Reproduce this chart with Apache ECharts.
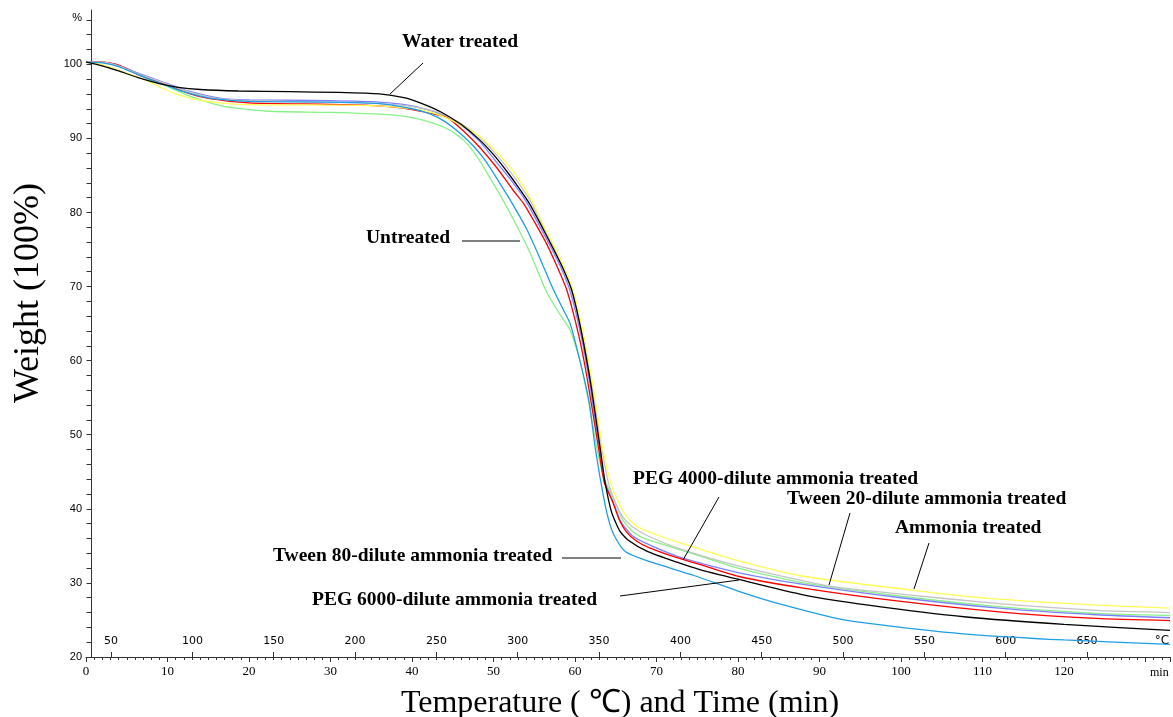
<!DOCTYPE html>
<html>
<head>
<meta charset="utf-8">
<script src="https://cdn.jsdelivr.net/npm/echarts@6/dist/echarts.min.js"></script>
<style>
html,body{margin:0;padding:0;background:#fff;}
#chart{width:1173px;height:717px;}
</style>
</head>
<body>
<div id="chart"></div>
<script>
// ---- data: [time (min), weight (%)] ----
var waterTreated = [[0,100.3],[2,99.8],[4,99.1],[6.4,98.2],[9,97.4],[11.3,96.9],[14,96.6],[18.7,96.4],[25,96.3],[31,96.2],[36,96.0],[39,95.5],[41,94.8],[43.5,93.6],[46,91.9],[48.3,89.8],[50,87.8],[51.6,85.6],[53,83.5],[54.3,81.4],[55.7,78.6],[57.1,75.6],[58.5,72.5],[59.6,69.5],[60.8,63.8],[62,56.4],[63.1,48.1],[63.7,43.5],[64.5,39.5],[65.5,37.0],[66.5,35.8],[68.8,34.3],[72.5,32.8],[75.3,31.8],[80,30.5],[88,28.4],[96,27.0],[108,25.4],[120,24.4],[133,23.6]];
var untreated = [[0,100.3],[2,100.3],[4,99.8],[6.4,98.6],[10,97.0],[12.5,95.8],[16.6,94.4],[22,93.7],[30,93.5],[37,93.2],[40,92.8],[42.2,92.2],[44.5,91.2],[46.3,89.8],[48,87.5],[49.6,84.6],[51.2,81.6],[52.8,78.3],[54.5,74.5],[56.5,69.3],[58,66.5],[59.4,64.1],[60.6,60.0],[61.8,53.7],[62.7,48.1],[63.6,44.0],[64.9,41.0],[65.8,38.6],[67,37.0],[68.5,36.0],[74.6,33.9],[80,32.0],[88,30.0],[100,28.2],[112,26.8],[124,25.9],[133,25.6]];
var peg4000 = [[0,100.3],[2,100.3],[4,99.9],[6.4,98.8],[10,97.4],[12.5,96.4],[16.6,95.4],[20,95.2],[30,95.1],[36,94.9],[40,94.4],[43,93.5],[46,91.8],[48.3,89.6],[50.5,86.6],[52.4,84.0],[54,81.5],[55.6,78.3],[57,75.4],[58.3,72.5],[59.4,69.4],[60.7,63.6],[61.8,57.0],[63.0,48.1],[63.7,43.5],[64.8,40.6],[65.6,38.3],[67,36.4],[69,35.2],[73.3,33.3],[80,31.4],[88,29.8],[100,28.0],[112,26.6],[124,25.7],[133,25.3]];
var peg6000 = [[0,100.3],[2,100.3],[4,99.9],[6.4,98.6],[10,97.2],[12.5,96.1],[15,95.4],[20,94.8],[30,94.6],[36,94.4],[40,93.9],[44.3,92.8],[46.5,90.8],[48.3,88.8],[50.5,85.9],[52.4,83.0],[53.7,81.2],[55.3,78.2],[56.5,75.8],[57.8,72.7],[59,69.5],[60.4,63.7],[61.4,58.2],[62.9,48.1],[63.6,43.5],[64.6,41.0],[65.4,38.6],[66.3,36.9],[67.5,35.7],[69,34.8],[72.5,33.4],[75.3,32.5],[80,30.9],[88,29.3],[100,27.5],[112,26.1],[124,25.2],[133,24.9]];
var tween20 = [[0,100.3],[2,100.3],[4,99.8],[6.4,98.7],[10,97.3],[12.5,96.3],[16,95.4],[20,95.1],[30,94.9],[36,94.7],[40,94.3],[43,93.6],[46,92.0],[48.3,90.2],[50.5,87.6],[52.4,85.0],[54.5,81.6],[56,78.3],[57.5,75.0],[58.8,71.8],[59.8,68.8],[61,63.0],[62.2,56.0],[63.3,48.1],[64.1,43.5],[64.9,41.0],[65.8,39.0],[67,37.6],[69,36.3],[72.9,34.6],[80,32.3],[91,29.6],[100,28.5],[112,27.2],[124,26.3],[133,26.0]];
var ammonia = [[0,100.3],[1,100.2],[2.7,99.7],[5,98.8],[7.6,97.7],[9.5,96.7],[11.3,95.9],[13.7,95.2],[18.7,94.6],[30,94.5],[36,94.4],[40,94.0],[43,93.3],[46,91.8],[48.3,90.3],[50.5,88.0],[52.4,85.6],[54.7,81.6],[56.1,78.3],[57.7,74.9],[59,71.8],[60,68.6],[61.2,62.7],[62.3,56.0],[63.4,48.1],[64.5,43.0],[65.3,41.0],[66.3,39.0],[67.6,37.6],[70,36.5],[72.9,35.4],[80,33.0],[88,30.9],[101.5,29.0],[112,27.8],[124,27.0],[133,26.6]];
var tween80 = [[0,100.3],[2,100.2],[4,99.7],[6.4,98.6],[8,97.9],[10,97.1],[12,96.3],[14,95.7],[16,95.3],[20,95.0],[30,94.9],[36,94.7],[40,94.0],[42.2,93.3],[44,92.3],[46,90.6],[47.5,89.0],[49,87.0],[50.8,83.9],[52.2,81.4],[54,77.9],[55.5,74.3],[57.3,69.7],[58.5,67.0],[59.4,65.0],[60.6,60.0],[61.7,54.6],[62.5,48.1],[63.5,41.6],[64.2,38.2],[64.9,36.2],[66.2,34.2],[68.8,33.0],[74.6,31.0],[80,28.9],[85,27.2],[93,25.0],[100,24.0],[108,23.1],[120,22.3],[133,21.7]];

var seriesNames = ['Water treated','Untreated','PEG 4000-dilute ammonia treated','PEG 6000-dilute ammonia treated','Tween 20-dilute ammonia treated','Ammonia treated','Tween 80-dilute ammonia treated'];
var seriesData = [waterTreated, untreated, peg4000, peg6000, tween20, ammonia, tween80];
var seriesColors = ['#000000','#88f088','#8080ff','#ff0000','#c4c4c4','#ffff55','#1e9ee6'];

var timeLabels = [0,10,20,30,40,50,60,70,80,90,100,110,120];
var weightLabels = [20,30,40,50,60,70,80,90,100];
var weightTicks = [];
for (var v = 20; v <= 106; v += 2) weightTicks.push(v);
var tempLabels = [50,100,150,200,250,300,350,400,450,500,550,600,650];

// annotations: text, text position, leader line
var annotations = [
  {text:'Water treated', x:402, y:42, line:[423,63,390,94]},
  {text:'Untreated', x:366, y:238, line:[462,241,520,241]},
  {text:'PEG 4000-dilute ammonia treated', x:633, y:479, line:[719,497,683,560]},
  {text:'Tween 20-dilute ammonia treated', x:787, y:499, line:[850,513,829,585]},
  {text:'Ammonia treated', x:895, y:528, line:[929,543,914,589]},
  {text:'Tween 80-dilute ammonia treated', x:273, y:556, line:[562,558,621,558]},
  {text:'PEG 6000-dilute ammonia treated', x:312, y:600, line:[620,596,739,580]}
];

var chart = echarts.init(document.getElementById('chart'), null, {renderer:'canvas'});

var graphics = [];
annotations.forEach(function(a){
  graphics.push({type:'text', x:a.x, y:a.y, z:10, style:{text:a.text, fill:'#000', font:'bold 19.5px "Liberation Serif"', textAlign:'left', textVerticalAlign:'middle'}});
  graphics.push({type:'line', z:10, shape:{x1:a.line[0], y1:a.line[1], x2:a.line[2], y2:a.line[3]}, style:{stroke:'#000', lineWidth:1}});
});
graphics.push({type:'text', x:1162, y:641, style:{text:'°C', fill:'#000', font:'12px "DejaVu Sans"', textAlign:'center', textVerticalAlign:'middle'}});
graphics.push({type:'text', x:1150, y:673, style:{text:'min', fill:'#000', font:'12px "Liberation Serif"', textAlign:'left', textVerticalAlign:'middle'}});
graphics.push({type:'text', x:29, y:293, rotation:Math.PI/2, style:{text:'Weight (100%)', fill:'#000', font:'36px "Liberation Serif"', textAlign:'center', textVerticalAlign:'middle'}});

var option = {
  animation:false,
  backgroundColor:'#fff',
  grid:{left:86, right:3, top:10, bottom:60, containLabel:false, outerBoundsMode:'none'},
  xAxis:[{
    type:'value', min:0, max:133, interval:10, position:'bottom',
    name:'Temperature ( \u2103) and Time (min)', nameLocation:'middle', nameGap:31,
    nameTextStyle:{fontFamily:'Liberation Serif', fontSize:32, color:'#000', padding:[0,16,0,0]},
    axisLine:{show:true, onZero:false, lineStyle:{color:'#333', width:1}},
    axisTick:{show:true, length:5, lineStyle:{color:'#333'}},
    minorTick:{show:true, splitNumber:10, length:3, lineStyle:{color:'#333'}},
    axisLabel:{color:'#000', fontFamily:'Liberation Serif', fontSize:13, margin:8, customValues:timeLabels},
    splitLine:{show:false}
  },{
    type:'value', min:34.6, max:701, position:'bottom',
    axisLine:{show:false},
    axisTick:{show:true, inside:true, length:5, customValues:tempLabels, lineStyle:{color:'#333'}},
    axisLabel:{show:true, inside:true, margin:10, color:'#000', fontFamily:'DejaVu Sans', fontSize:11, customValues:tempLabels},
    splitLine:{show:false}
  }],
  yAxis:{
    type:'value', min:20, max:107.33, interval:10, offset:-5.5,
    axisLine:{show:true, lineStyle:{color:'#333', width:1}},
    axisTick:{show:true, length:5, customValues:weightTicks, lineStyle:{color:'#333'}},
    axisLabel:{color:'#000', fontFamily:'Liberation Sans', fontSize:11, margin:9.5,
      customValues:weightLabels.concat([106.3]),
      formatter:function(v){ return v > 105 ? '%' : String(v); }},
    splitLine:{show:false}
  },
  graphic:graphics,
  series: seriesData.map(function(d, i){
    return {
      name:seriesNames[i], type:'line', data:d, xAxisIndex:0, yAxisIndex:0,
      showSymbol:false, smooth:0.2,
      lineStyle:{color:seriesColors[i], width:1.3}, itemStyle:{color:seriesColors[i]},
      z: i === 0 ? 5 : 3
    };
  })
};
chart.setOption(option);
</script>
</body>
</html>
